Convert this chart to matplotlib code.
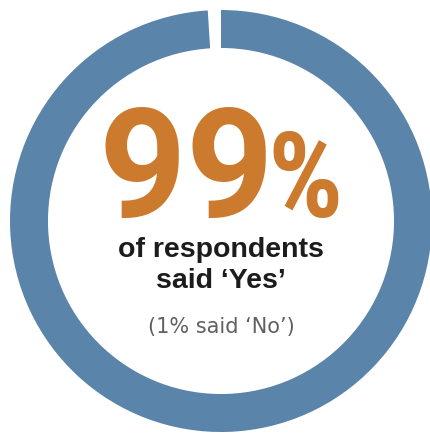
import matplotlib
matplotlib.use("Agg")
import matplotlib.pyplot as plt

# Datos de la encuesta
categorias = ["No", "Yes"]
valores = [1, 99]
colores = ["#ffffff", "#5a84aa"]

titulo_valor = "99"
titulo_signo = "%"
linea_1 = "of respondents"
linea_2 = "said \u2018Yes\u2019"
nota = "(1% said \u2018No\u2019)"

NARANJA = "#cc7a2e"
TINTA = "#1c1c1c"
GRIS = "#606060"

# Fuentes de la cifra grande vía mathtext (caja ajustada a los glifos)
plt.rcParams["mathtext.fontset"] = "custom"
plt.rcParams["mathtext.rm"] = "Roboto:bold"
plt.rcParams["mathtext.sf"] = "Roboto Condensed:bold"

W, H = 431, 437
fig = plt.figure(figsize=(W / 100, H / 100), dpi=100, facecolor="white")
ax = fig.add_axes([0, 0, 1, 1])

# Anillo: empieza arriba y gira en sentido antihorario, el 1% queda como hueco blanco
cx, cy, radio = 221, H - 221, 211
ax.pie(valores, colors=colores, startangle=90, counterclock=True,
       center=(cx, cy), radius=radio, frame=True,
       wedgeprops=dict(width=radio * 0.18, linewidth=0))
ax.set_xlim(0, W)
ax.set_ylim(0, H)
ax.set_aspect("equal")
ax.axis("off")

# Cifra central
ax.text(267, H - 217, rf"$\mathrm{{{titulo_valor}}}$", ha="right", va="baseline",
        fontsize=110, color=NARANJA)
ax.text(267, H - 217, r"$\mathsf{\%}$", ha="left", va="baseline",
        fontsize=85, color=NARANJA)

ax.text(cx, H - 257, linea_1, ha="center", va="baseline", fontsize=20.5,
        fontweight="bold", color=TINTA, family="Liberation Sans")
ax.text(cx, H - 288, linea_2, ha="center", va="baseline", fontsize=20.5,
        fontweight="bold", color=TINTA, family="Liberation Sans")
ax.text(cx, H - 333, nota, ha="center", va="baseline", fontsize=15,
        color=GRIS, family="DejaVu Sans")

fig.savefig("out.png", dpi=100, facecolor="white")
